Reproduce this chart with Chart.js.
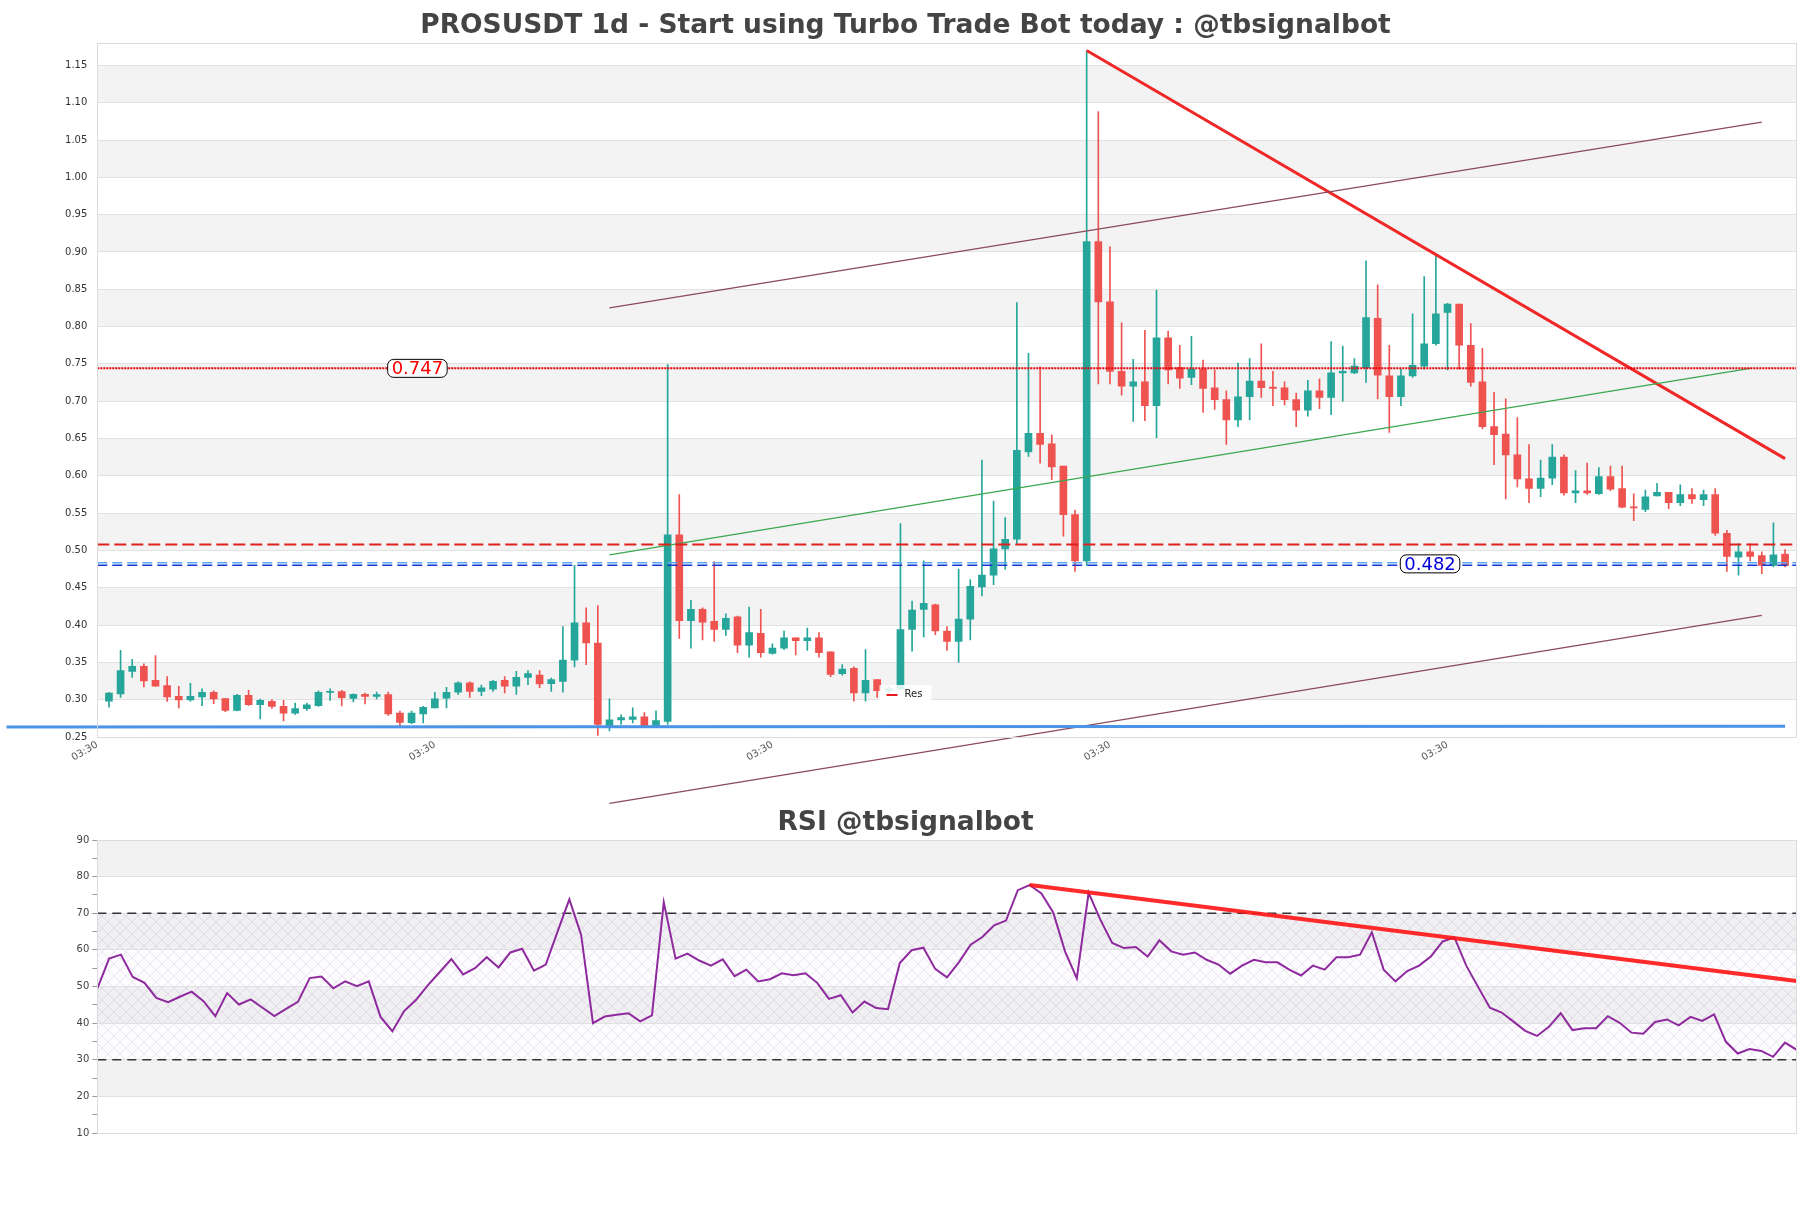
<!DOCTYPE html>
<html><head><meta charset="utf-8">
<script src="https://cdn.jsdelivr.net/npm/chart.js@4.4.0/dist/chart.umd.min.js"></script>
<style>
html,body{margin:0;padding:0;background:#fff;width:1811px;height:1208px;overflow:hidden;}
#c1{position:absolute;left:0;top:0;}
#c2{position:absolute;left:0;top:790px;}
</style></head><body>
<canvas id="c1" width="1811" height="830"></canvas>
<canvas id="c2" width="1811" height="418"></canvas>
<script>
// ---------- DATA ----------
const candleOpen = [0.298,0.3076,0.338,0.3446,0.326,0.319,0.3045,0.2996,0.3036,0.310,
0.3014,0.2857,0.3058,0.2933,0.2978,0.291,0.282,0.288,0.292,0.3098,
0.3107,0.3018,0.3071,0.3045,0.307,0.282,0.2692,0.281,0.289,0.302,
0.310,0.3227,0.311,0.314,0.326,0.318,0.330,0.333,0.3215,0.3245,
0.353,0.403,0.376,0.264,0.273,0.2735,0.277,0.264,0.271,0.521,
0.406,0.421,0.405,0.394,0.411,0.373,0.389,0.362,0.369,0.383,
0.379,0.383,0.364,0.335,0.342,0.309,0.327,0.312,0.314,0.394,
0.421,0.427,0.392,0.378,0.408,0.451,0.467,0.502,0.515,0.632,
0.657,0.643,0.613,0.548,0.486,0.914,0.833,0.740,0.720,0.726,
0.694,0.785,0.745,0.732,0.743,0.718,0.702,0.675,0.706,0.727,
0.719,0.718,0.702,0.688,0.714,0.705,0.738,0.738,0.745,0.811,
0.734,0.706,0.734,0.747,0.777,0.819,0.830,0.775,0.726,0.666,
0.656,0.628,0.596,0.583,0.597,0.625,0.577,0.580,0.576,0.599,
0.583,0.558,0.555,0.573,0.578,0.564,0.575,0.568,0.575,0.523,
0.491,0.498,0.493,0.480,0.495];
const candleHigh = [0.310,0.366,0.354,0.348,0.359,0.331,0.318,0.322,0.3147,0.312,
0.3014,0.3071,0.3125,0.3009,0.300,0.2991,0.2955,0.2955,0.312,0.3147,
0.3125,0.308,0.3089,0.3103,0.3103,0.2848,0.2848,0.291,0.310,0.3166,
0.324,0.324,0.3196,0.326,0.331,0.338,0.339,0.339,0.329,0.398,
0.480,0.423,0.426,0.301,0.2796,0.289,0.2827,0.285,0.749,0.575,
0.433,0.423,0.485,0.415,0.412,0.424,0.421,0.375,0.392,0.383,
0.396,0.390,0.364,0.347,0.344,0.367,0.327,0.318,0.536,0.432,
0.486,0.428,0.398,0.475,0.461,0.621,0.566,0.544,0.832,0.764,
0.746,0.655,0.613,0.554,1.170,1.088,0.907,0.805,0.756,0.795,
0.849,0.794,0.775,0.787,0.755,0.742,0.714,0.751,0.757,0.777,
0.740,0.726,0.711,0.728,0.730,0.780,0.774,0.757,0.888,0.856,
0.775,0.743,0.817,0.867,0.896,0.831,0.830,0.804,0.771,0.712,
0.703,0.678,0.642,0.621,0.642,0.628,0.607,0.617,0.611,0.613,
0.613,0.576,0.581,0.590,0.578,0.588,0.583,0.581,0.583,0.527,
0.509,0.509,0.498,0.537,0.501];
const candleLow = [0.290,0.303,0.330,0.317,0.318,0.2978,0.289,0.298,0.292,0.2946,
0.2839,0.2848,0.2924,0.2741,0.2884,0.2714,0.2804,0.2857,0.2911,0.2991,
0.2915,0.2969,0.2942,0.3009,0.279,0.2643,0.2679,0.2688,0.289,0.289,
0.307,0.303,0.3055,0.311,0.309,0.307,0.320,0.316,0.311,0.310,
0.344,0.347,0.252,0.258,0.267,0.269,0.264,0.263,0.267,0.382,
0.369,0.380,0.378,0.386,0.363,0.357,0.357,0.361,0.367,0.360,
0.366,0.357,0.331,0.333,0.298,0.298,0.303,0.306,0.314,0.365,
0.384,0.387,0.366,0.350,0.380,0.439,0.454,0.475,0.509,0.626,
0.617,0.595,0.519,0.472,0.480,0.723,0.723,0.708,0.673,0.674,
0.651,0.723,0.717,0.722,0.685,0.689,0.642,0.666,0.675,0.705,
0.694,0.695,0.666,0.680,0.690,0.682,0.700,0.737,0.725,0.703,
0.658,0.694,0.732,0.743,0.775,0.742,0.743,0.720,0.663,0.615,
0.569,0.585,0.564,0.572,0.588,0.574,0.564,0.575,0.575,0.580,
0.557,0.540,0.552,0.573,0.556,0.560,0.563,0.560,0.520,0.472,
0.467,0.486,0.469,0.478,0.478];
const candleClose = [0.309,0.339,0.3446,0.325,0.318,0.3036,0.2996,0.3045,0.310,0.301,
0.2857,0.3058,0.2933,0.299,0.291,0.282,0.288,0.293,0.310,0.311,
0.3027,0.3071,0.3045,0.307,0.281,0.2696,0.282,0.2897,0.301,0.310,
0.3227,0.311,0.316,0.3246,0.318,0.330,0.335,0.321,0.327,0.353,
0.403,0.376,0.267,0.273,0.276,0.277,0.264,0.272,0.521,0.406,
0.421,0.404,0.394,0.409,0.373,0.390,0.363,0.369,0.383,0.379,
0.383,0.363,0.334,0.341,0.309,0.326,0.312,0.315,0.394,0.420,
0.429,0.392,0.378,0.408,0.452,0.467,0.502,0.515,0.634,0.657,
0.642,0.612,0.548,0.486,0.914,0.833,0.740,0.720,0.726,0.694,
0.785,0.742,0.731,0.743,0.717,0.702,0.675,0.706,0.727,0.718,
0.717,0.702,0.688,0.714,0.705,0.738,0.740,0.747,0.812,0.735,
0.706,0.734,0.748,0.777,0.817,0.830,0.775,0.725,0.666,0.655,
0.628,0.596,0.583,0.597,0.625,0.577,0.580,0.577,0.599,0.582,
0.558,0.557,0.572,0.578,0.564,0.575,0.569,0.575,0.523,0.492,
0.498,0.492,0.480,0.494,0.480];

const rsiValues = [49.4,57.6,58.7,52.6,51.0,46.9,45.7,47.2,48.6,46.0,
41.9,48.2,45.1,46.5,44.2,41.9,43.9,45.8,52.3,52.7,
49.5,51.4,50.1,51.4,41.7,37.8,43.3,46.3,50.3,53.9,
57.5,53.3,55.0,58.0,55.2,59.3,60.3,54.3,56.0,65.0,
73.8,64.1,40.0,41.8,42.3,42.7,40.5,42.1,73.0,57.6,
59.0,57.1,55.7,57.4,52.8,54.6,51.4,52.0,53.6,53.1,
53.6,51.0,46.6,47.6,42.9,45.9,44.1,43.8,56.4,59.9,
60.6,54.8,52.5,56.6,61.4,63.5,66.7,68.0,76.3,77.7,
75.4,70.2,59.6,52.2,75.6,68.2,61.9,60.5,60.8,58.2,
62.6,59.6,58.7,59.3,57.3,56.0,53.5,55.7,57.3,56.6,
56.6,54.6,53.0,55.7,54.6,58.0,58.0,58.7,64.8,54.6,
51.4,54.2,55.7,58.2,62.3,63.4,55.7,49.9,44.2,42.9,
40.4,37.9,36.5,39.0,42.7,38.1,38.6,38.6,41.9,40.1,
37.4,37.1,40.3,41.0,39.4,41.7,40.6,42.4,34.9,31.7,
32.9,32.4,30.8,34.7,32.7];

// tick labels
const priceTicks = [0.25,0.30,0.35,0.40,0.45,0.50,0.55,0.60,0.65,0.70,0.75,0.80,0.85,0.90,0.95,1.00,1.05,1.10,1.15];
const timeTickIndex = [-1,28,57,86,115];
const timeTickLabel = '03:30';
const rsiTicks = [10,15,20,25,30,35,40,45,50,55,60,65,70,75,80,85,90];

// levels and trend lines (data space: [candle index, value])
const resistanceLine = [[-1,0.744],[145,0.744]];
const resistanceText = '0.747';
const midResLine = [[-1,0.508],[145,0.508]];
const supportLineLight = [[-1,0.4835],[145,0.4835]];
const supportLineDark = [[-1,0.4800],[145,0.4800]];
const supportText = '0.482';
const baseLine = [[-8.8,0.2635],[144,0.2645]];
const channelUpper = [[43,0.825],[142,1.074]];
const channelLower = [[43,0.161],[142,0.413]];
const channelMid = [[43,0.494],[141,0.744]];
const downTrend = [[84,1.170],[144,0.623]];
const rsiOverbought = [[0,70],[144,70]];
const rsiOversold = [[0,30],[144,30]];
const rsiTrend = [[79,77.7],[144,51.5]];

// ---------- helpers ----------
const UP = '#26a69a', DOWN = '#ef5350';
const FONT = "'DejaVu Sans', 'Liberation Sans', sans-serif";
const SIDE = 14.3;
const pts = arr => arr.map(([x, y]) => ({x, y}));
const idx = candleOpen.map((_, i) => i);
const candleColors = idx.map(i => candleClose[i] >= candleOpen[i] ? UP : DOWN);

function roundBox(ctx, x, y, w, h, r) {
  ctx.beginPath();
  if (ctx.roundRect) ctx.roundRect(x, y, w, h, r); else ctx.rect(x, y, w, h);
}

const mainDecor = {
  id: 'mainDecor',
  beforeDraw(chart) {
    const {ctx, chartArea: a} = chart;
    const y = chart.scales.y;
    ctx.save();
    ctx.fillStyle = '#f3f3f3';
    for (let i = 1; i + 1 < priceTicks.length; i += 2) {
      const y1 = y.getPixelForValue(priceTicks[i + 1]);
      const y2 = y.getPixelForValue(priceTicks[i]);
      ctx.fillRect(a.left, y1, a.right - a.left, y2 - y1);
    }
    ctx.restore();
  },
  afterDatasetsDraw(chart) {
    const {ctx, chartArea: a} = chart;
    const x = chart.scales.x, y = chart.scales.y;
    ctx.save();
    const tag = (text, cx, val, color) => {
      ctx.font = '18px ' + FONT;
      const w = ctx.measureText(text).width + 8;
      const h = 18;
      const px = x.getPixelForValue(cx) - w / 2, py = y.getPixelForValue(val) - h / 2;
      roundBox(ctx, px, py, w, h, 6);
      ctx.fillStyle = '#fff'; ctx.fill();
      ctx.lineWidth = 1; ctx.strokeStyle = '#000'; ctx.stroke();
      ctx.fillStyle = color; ctx.textAlign = 'center'; ctx.textBaseline = 'middle';
      ctx.fillText(text, px + w / 2, py + h / 2 + 1);
    };
    tag(resistanceText, 26.5, resistanceLine[0][1], '#ff0000');
    tag(supportText, 113.5, 0.482, '#0000dd');
    // legend "Res"
    const lx = chart.width / 2, ly = a.bottom - 43;
    ctx.fillStyle = 'rgba(255,255,255,0.85)';
    ctx.fillRect(lx - 26, ly - 9, 52, 18);
    ctx.strokeStyle = '#e41a1c'; ctx.lineWidth = 2;
    ctx.beginPath(); ctx.moveTo(lx - 19, ly + 1); ctx.lineTo(lx - 8, ly + 1); ctx.stroke();
    ctx.fillStyle = '#222'; ctx.font = '10px ' + FONT; ctx.textAlign = 'left'; ctx.textBaseline = 'middle';
    ctx.fillText('Res', lx - 1, ly);
    ctx.restore();
  },
  afterDraw(chart) {
    const {ctx, chartArea: a} = chart;
    ctx.save();
    ctx.strokeStyle = '#dcdcdc'; ctx.lineWidth = 1;
    ctx.strokeRect(Math.round(a.left) + 0.5, Math.round(a.top) + 0.5, Math.round(a.right - a.left), Math.round(a.bottom - a.top));
    ctx.restore();
  }
};

function lineDs(data, color, width, dash, extra) {
  return Object.assign({type: 'line', data: pts(data), borderColor: color, borderWidth: width,
    borderDash: dash || [], pointRadius: 0, fill: false, tension: 0, order: 0}, extra || {});
}

new Chart(document.getElementById('c1'), {
  data: {
    datasets: [
      {type: 'bar', label: 'body', data: idx.map(i => ({x: i, y: [candleOpen[i], candleClose[i]]})),
       backgroundColor: candleColors, borderWidth: 0, grouped: false, barThickness: 7, maxBarThickness: 7, minBarLength: 1, order: 1},
      {type: 'bar', label: 'wick', data: idx.map(i => ({x: i, y: [candleLow[i], candleHigh[i]]})),
       backgroundColor: candleColors, borderWidth: 0, grouped: false, barThickness: 1, maxBarThickness: 1, order: 2},
      lineDs(resistanceLine, '#e8000b', 2, [2, 1]),
      lineDs(midResLine, '#e0201e', 2, [12, 5]),
      lineDs(supportLineLight, '#5aa9f0', 1.5, [10, 5]),
      lineDs(supportLineDark, '#1535d6', 1.5, [10, 5]),
      lineDs(baseLine, '#4a93e6', 3, [], {clip: false}),
      lineDs(channelUpper, '#8a4a5c', 1.2),
      lineDs(channelLower, '#8a4a5c', 1.2, [], {clip: false}),
      lineDs(channelMid, '#3aa84f', 1.2),
      lineDs(downTrend, '#f02828', 3)
    ]
  },
  options: {
    responsive: false, animation: false,
    layout: {padding: {left: SIDE, right: SIDE, top: 0, bottom: 0}},
    plugins: {
      legend: {display: false}, tooltip: {enabled: false},
      title: {display: true, text: 'PROSUSDT 1d - Start using Turbo Trade Bot today : @tbsignalbot',
        color: '#444', font: {family: FONT, size: 26.5, weight: 'bold'}, padding: {top: 9.8, bottom: 1.4}}
    },
    scales: {
      x: {type: 'linear', min: -1, max: 145, offset: false,
        grid: {display: false, drawTicks: false}, border: {display: false},
        afterBuildTicks: s => { s.ticks = timeTickIndex.map(v => ({value: v})); },
        afterFit: s => { s.height = 93; },
        ticks: {autoSkip: false, padding: 2, minRotation: 30, maxRotation: 30, color: '#555', font: {family: FONT, size: 10},
          callback: () => timeTickLabel}},
      y: {type: 'linear', min: 0.25, max: 1.18,
        grid: {color: '#e2e2e2', drawTicks: false}, border: {display: false},
        afterBuildTicks: s => { s.ticks = priceTicks.map(v => ({value: v})); },
        afterFit: s => { s.width = 97.3 - SIDE; },
        ticks: {autoSkip: false, padding: 10, color: '#333', font: {family: FONT, size: 10},
          callback: v => Number(v).toFixed(2)}}
    }
  },
  plugins: [mainDecor]
});

// ---------- RSI ----------
function makeHatch() {
  const c = document.createElement('canvas'); c.width = 12; c.height = 12;
  const g = c.getContext('2d');
  g.strokeStyle = 'rgba(170,145,195,0.22)'; g.lineWidth = 1;
  g.beginPath();
  g.moveTo(-1, -1); g.lineTo(13, 13);
  g.moveTo(13, -1); g.lineTo(-1, 13);
  g.stroke();
  return c;
}
const rsiBands = [[80, 90], [60, 70], [40, 50], [20, 30]];
const rsiDecor = {
  id: 'rsiDecor',
  beforeDraw(chart) {
    const {ctx, chartArea: a} = chart;
    const y = chart.scales.y;
    ctx.save();
    ctx.fillStyle = '#f2f2f2';
    rsiBands.forEach(([lo, hi]) => {
      const y1 = y.getPixelForValue(hi), y2 = y.getPixelForValue(lo);
      ctx.fillRect(a.left, y1, a.right - a.left, y2 - y1);
    });
    const top = y.getPixelForValue(rsiOverbought[0][1]), bot = y.getPixelForValue(rsiOversold[0][1]);
    ctx.fillStyle = 'rgba(200,175,220,0.04)';
    ctx.fillRect(a.left, top, a.right - a.left, bot - top);
    ctx.fillStyle = ctx.createPattern(makeHatch(), 'repeat');
    ctx.fillRect(a.left, top, a.right - a.left, bot - top);
    ctx.restore();
  },
  afterDraw(chart) {
    const {ctx, chartArea: a} = chart;
    ctx.save();
    ctx.strokeStyle = '#dcdcdc'; ctx.lineWidth = 1;
    ctx.strokeRect(Math.round(a.left) + 0.5, Math.round(a.top) + 0.5, Math.round(a.right - a.left), Math.round(a.bottom - a.top));
    ctx.restore();
  }
};

new Chart(document.getElementById('c2'), {
  type: 'line',
  data: {
    datasets: [
      lineDs(rsiOverbought, '#333', 1.5, [9, 6], {order: 2}),
      lineDs(rsiOversold, '#333', 1.5, [9, 6], {order: 2}),
      {type: 'line', data: rsiValues.map((v, i) => ({x: i, y: v})), borderColor: '#8e2a9e', borderWidth: 2,
       pointRadius: 0, fill: false, tension: 0, order: 1},
      lineDs(rsiTrend, 'rgba(255,20,20,0.9)', 4, [], {order: 0})
    ]
  },
  options: {
    responsive: false, animation: false,
    layout: {padding: {left: SIDE, right: SIDE, top: 0, bottom: 75}},
    plugins: {
      legend: {display: false}, tooltip: {enabled: false},
      title: {display: true, text: 'RSI @tbsignalbot', color: '#444',
        font: {family: FONT, size: 26.5, weight: 'bold'}, padding: {top: 16.8, bottom: 1.4}}
    },
    scales: {
      x: {type: 'linear', min: 0, max: 144, display: false},
      y: {type: 'linear', min: 10, max: 90, border: {display: false},
        grid: {color: c => (c.tick && c.tick.value % 10 === 0) ? '#e0e0e0' : 'rgba(0,0,0,0)',
               tickColor: '#999', tickLength: 5, drawTicks: true},
        afterBuildTicks: s => { s.ticks = rsiTicks.map(v => ({value: v})); },
        afterFit: s => { s.width = 97.3 - SIDE; },
        ticks: {autoSkip: false, padding: 3, color: '#444', font: {family: FONT, size: 10},
          callback: v => (v % 10 === 0 ? String(v) : '')}}
    }
  },
  plugins: [rsiDecor]
});
</script>
</body></html>
